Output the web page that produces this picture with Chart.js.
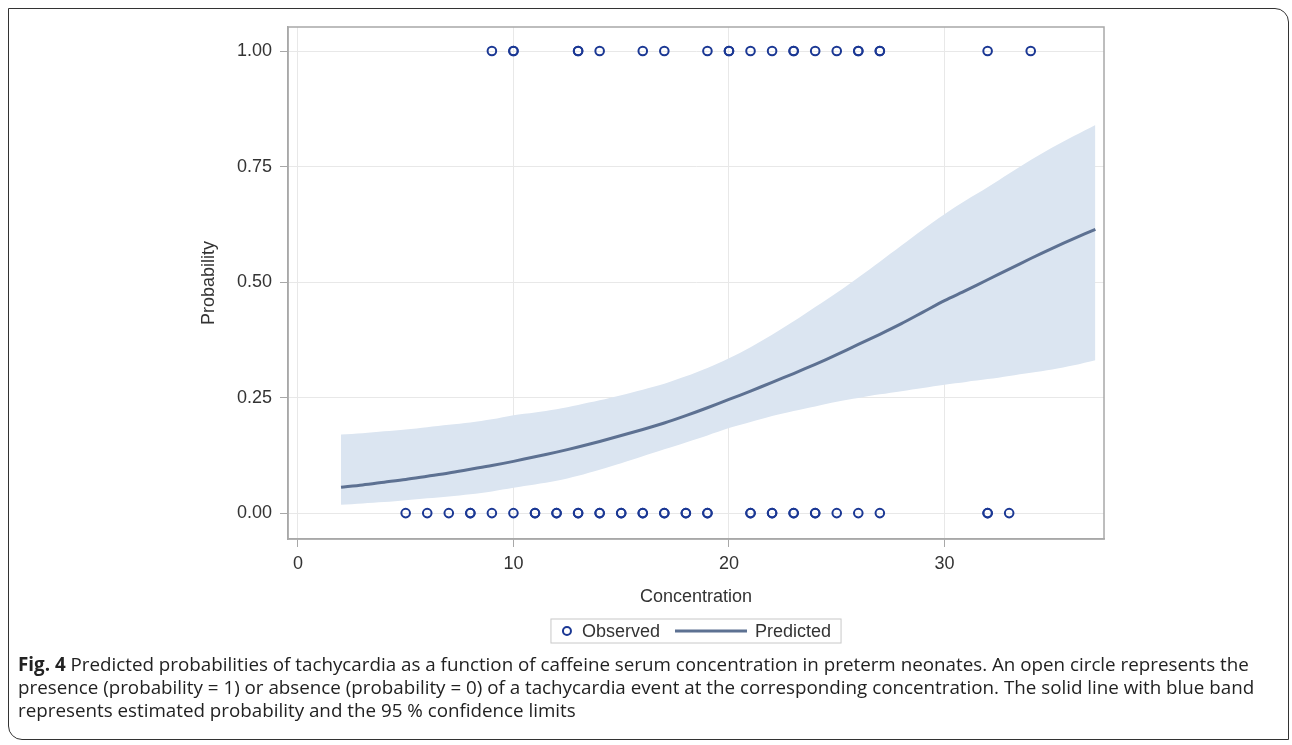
<!DOCTYPE html>
<html>
<head>
<meta charset="utf-8">
<script src="https://cdn.jsdelivr.net/npm/chart.js@4.4.1/dist/chart.umd.min.js"></script>
<style>
	html, body { margin: 0; padding: 0; background: #fff; }
	body { width: 1292px; height: 745px; position: relative; overflow: hidden; }
	#chart { position: absolute; left: 0; top: 0; }
	.frame {
		position: absolute; left: 8px; top: 8px; width: 1279px; height: 730px;
		border: 1.5px solid #333; border-radius: 0 14px 0 14px; pointer-events: none;
	}
	.caption {
		position: absolute; left: 18px; top: 653px;
		font-family: "Open Sans", "Noto Sans", sans-serif; font-size: 18.8px; line-height: 23px;
		color: #222; white-space: nowrap;
	}
	.caption b { font-weight: 700; }
</style>
</head>
<body>
<canvas id="chart" width="1292" height="745"></canvas>
<div class="frame"></div>
<div class="caption">
	<b>Fig. 4</b> Predicted probabilities of tachycardia as a function of caffeine serum concentration in preterm neonates. An open circle represents the<br>
	presence (probability = 1) or absence (probability = 0) of a tachycardia event at the corresponding concentration. The solid line with blue band<br>
	represents estimated probability and the 95 % confidence limits
</div>
<script>
// |-------------|
// |   Données   |
// |-------------|

// Grille de concentration pour la courbe prédite
const conc_grid = [2, 3, 4, 5, 6, 7, 8, 9, 10, 11, 12, 13, 14, 15, 16, 17, 18, 19, 20, 21, 22, 23, 24, 25, 26, 27, 28, 29, 30, 31, 32, 33, 34, 35, 36, 37]
const predicted = [0.056, 0.061, 0.067, 0.073, 0.080, 0.087, 0.095, 0.103, 0.112, 0.122, 0.132, 0.143, 0.155, 0.168, 0.181, 0.195, 0.211, 0.228, 0.246, 0.264, 0.283, 0.302, 0.322, 0.343, 0.365, 0.387, 0.410, 0.435, 0.460, 0.482, 0.505, 0.528, 0.551, 0.573, 0.594, 0.614]
const lower_cl = [0.018, 0.021, 0.024, 0.028, 0.032, 0.036, 0.041, 0.047, 0.055, 0.062, 0.070, 0.081, 0.094, 0.108, 0.123, 0.138, 0.153, 0.168, 0.184, 0.197, 0.210, 0.221, 0.231, 0.241, 0.249, 0.257, 0.264, 0.271, 0.278, 0.284, 0.290, 0.297, 0.304, 0.311, 0.320, 0.331]
const upper_cl = [0.170, 0.173, 0.177, 0.181, 0.186, 0.191, 0.196, 0.203, 0.212, 0.218, 0.225, 0.234, 0.244, 0.255, 0.267, 0.280, 0.296, 0.314, 0.335, 0.359, 0.386, 0.415, 0.446, 0.477, 0.510, 0.544, 0.579, 0.614, 0.647, 0.677, 0.705, 0.735, 0.764, 0.791, 0.816, 0.840]

// Concentrations observées (doublons = cercles superposés)
const observed_event = [9, 10, 10, 13, 13, 14, 16, 17, 19, 20, 20, 21, 22, 23, 23, 24, 25, 26, 26, 27, 27, 32, 34]
const observed_no_event = [5, 6, 7, 8, 8, 9, 10, 11, 11, 12, 12, 13, 13, 14, 14, 15, 15, 16, 16, 17, 17, 18, 18, 19, 19, 21, 21, 22, 22, 23, 23, 24, 24, 25, 26, 27, 32, 32, 33]

// Graduations
const x_ticks = [0, 10, 20, 30]
const y_ticks = [0, 0.25, 0.5, 0.75, 1]


// |--------------|
// |   Chart.js   |
// |--------------|

Chart.defaults.font.family = '"Liberation Sans", Arial, Helvetica, sans-serif'
Chart.defaults.font.size = 18
Chart.defaults.color = '#333'

const band_color = '#dbe5f1'
const line_color = '#5d7192'
const marker_color = '#1b3894'
const grid_color = '#e8e8e8'
const axis_color = '#a8a8a8'

// Cadre complet autour de la zone de tracé
const plot_frame = {
	id: 'plot_frame',
	afterDraw(chart) {
		const ctx = chart.ctx
		const a = chart.chartArea
		ctx.save()
		ctx.strokeStyle = axis_color
		ctx.lineWidth = 1.5
		ctx.strokeRect(a.left, a.top, a.right - a.left, a.bottom - a.top)
		ctx.restore()
	}
}

// Légende encadrée (cercle + trait)
const framed_legend = {
	id: 'framed_legend',
	afterDraw(chart) {
		const ctx = chart.ctx
		const a = chart.chartArea
		ctx.save()
		ctx.font = '18px "Liberation Sans", Arial, sans-serif'
		const w_obs = ctx.measureText('Observed').width
		const w_pred = ctx.measureText('Predicted').width
		const total = 16 + 15 + w_obs + 15 + 72 + 8 + w_pred + 10
		const left = (a.left + a.right) / 2 - total / 2
		const cy = chart.scales.x.bottom + 23
		ctx.strokeStyle = '#c8c8c8'
		ctx.lineWidth = 1
		ctx.strokeRect(left, cy - 12, total, 24)
		// cercle observé
		ctx.strokeStyle = marker_color
		ctx.lineWidth = 2
		ctx.beginPath()
		ctx.arc(left + 16, cy, 4, 0, Math.PI * 2)
		ctx.stroke()
		ctx.fillStyle = '#333'
		ctx.textBaseline = 'middle'
		ctx.fillText('Observed', left + 31, cy + 1)
		// trait prédit
		const lx = left + 31 + w_obs + 15
		ctx.strokeStyle = line_color
		ctx.lineWidth = 3
		ctx.beginPath()
		ctx.moveTo(lx, cy)
		ctx.lineTo(lx + 72, cy)
		ctx.stroke()
		ctx.fillText('Predicted', lx + 80, cy + 1)
		ctx.restore()
	}
}

// order : plus petit = dessiné au-dessus
const data_chart = {
	datasets: [
		{
			type: 'line',
			label: 'Lower CL',
			data: conc_grid.map((x, i) => ({x: x, y: lower_cl[i]})),
			showLine: true,
			borderWidth: 0,
			pointRadius: 0,
			tension: 0.3,
			fill: false,
			order: 3
		},
		{
			type: 'line',
			label: 'Upper CL',
			data: conc_grid.map((x, i) => ({x: x, y: upper_cl[i]})),
			showLine: true,
			borderWidth: 0,
			pointRadius: 0,
			tension: 0.3,
			backgroundColor: band_color,
			fill: '-1',
			order: 2
		},
		{
			type: 'line',
			label: 'Predicted',
			data: conc_grid.map((x, i) => ({x: x, y: predicted[i]})),
			showLine: true,
			borderColor: line_color,
			borderWidth: 3,
			pointRadius: 0,
			tension: 0.3,
			fill: false,
			order: 1
		},
		{
			type: 'scatter',
			label: 'Observed',
			data: observed_event.map(x => ({x: x, y: 1})).concat(observed_no_event.map(x => ({x: x, y: 0}))),
			borderColor: marker_color,
			backgroundColor: 'rgba(0,0,0,0)',
			borderWidth: 2,
			pointRadius: 4.3,
			pointStyle: 'circle',
			order: 0
		}
	]
}

new Chart(document.getElementById('chart'), {
	type: 'scatter',
	data: data_chart,
	options: {
		responsive: false,
		animation: false,
		layout: {
			padding: {left: 198, top: 27, right: 188, bottom: 137}
		},
		plugins: {
			legend: {display: false},
			tooltip: {enabled: false}
		},
		scales: {
			x: {
				type: 'linear',
				min: -0.46,
				max: 37.4,
				afterBuildTicks: (scale) => { scale.ticks = x_ticks.map(v => ({value: v})) },
				afterFit: (scale) => { scale.height = 69 },
				ticks: {
					padding: 6,
					callback: (v) => String(v)
				},
				grid: {
					color: grid_color,
					tickColor: axis_color,
					tickLength: 8
				},
				border: {color: axis_color, width: 1.5},
				title: {
					display: true,
					text: 'Concentration',
					padding: 0,
					font: {size: 18}
				}
			},
			y: {
				type: 'linear',
				min: -0.056,
				max: 1.052,
				afterBuildTicks: (scale) => { scale.ticks = y_ticks.map(v => ({value: v})) },
				afterFit: (scale) => { scale.width = 90 },
				ticks: {
					padding: 8,
					callback: (v) => v.toFixed(2)
				},
				grid: {
					color: grid_color,
					tickColor: axis_color,
					tickLength: 8
				},
				border: {color: axis_color, width: 1.5},
				title: {
					display: true,
					text: 'Probability',
					padding: 0,
					font: {size: 18}
				}
			}
		}
	},
	plugins: [plot_frame, framed_legend]
})
</script>
</body>
</html>
